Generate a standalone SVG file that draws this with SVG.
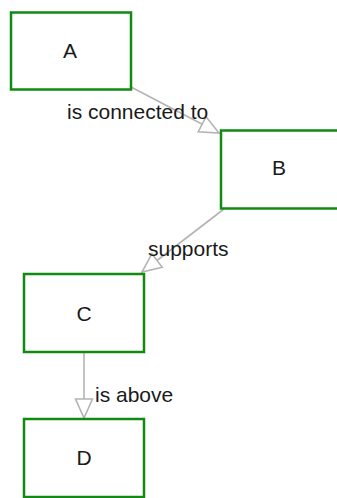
<svg xmlns="http://www.w3.org/2000/svg" width="337" height="498" viewBox="0 0 337 498">
<style>
.box{fill:#ffffff;stroke:#108a10;stroke-width:2.5}
.lbl{font-family:"Liberation Sans",Arial,sans-serif;font-size:21px;fill:#1a1a1a}
.nl{text-anchor:middle}
.edge{stroke:#b4b4b4;stroke-width:1.6;fill:none}
</style>
<defs>
<marker id="arr" markerUnits="userSpaceOnUse" markerWidth="22" markerHeight="20" viewBox="-1 -10 22 20" refX="19" refY="0" orient="auto">
<path d="M0,-8.5 L19,0 L0,8.5 Z" fill="#ffffff" stroke="#b4b4b4" stroke-width="1.6"/>
</marker>
</defs>
<rect width="337" height="498" fill="#ffffff"/>
<g id="connectors">
<g id="e-ab"><line class="edge" x1="131" y1="87" x2="219" y2="133" marker-end="url(#arr)"/><text class="lbl" x="67" y="119">is connected to</text></g>
<g id="e-bc"><line class="edge" x1="224" y1="209" x2="142" y2="272" marker-end="url(#arr)"/><text class="lbl" x="148" y="256">supports</text></g>
<g id="e-cd"><line class="edge" x1="84" y1="353" x2="84" y2="418" marker-end="url(#arr)"/><text class="lbl" x="95" y="402">is above</text></g>
</g>
<g id="A"><rect class="box" x="11" y="12.5" width="120" height="77"/><text class="lbl nl" x="70" y="58">A</text></g>
<g id="B"><rect class="box" x="221" y="130.5" width="120" height="78"/><text class="lbl nl" x="279" y="175">B</text></g>
<g id="C"><rect class="box" x="24" y="274" width="120" height="78"/><text class="lbl nl" x="84" y="321">C</text></g>
<g id="D"><rect class="box" x="24" y="419" width="120" height="78"/><text class="lbl nl" x="84" y="465">D</text></g>
</svg>
